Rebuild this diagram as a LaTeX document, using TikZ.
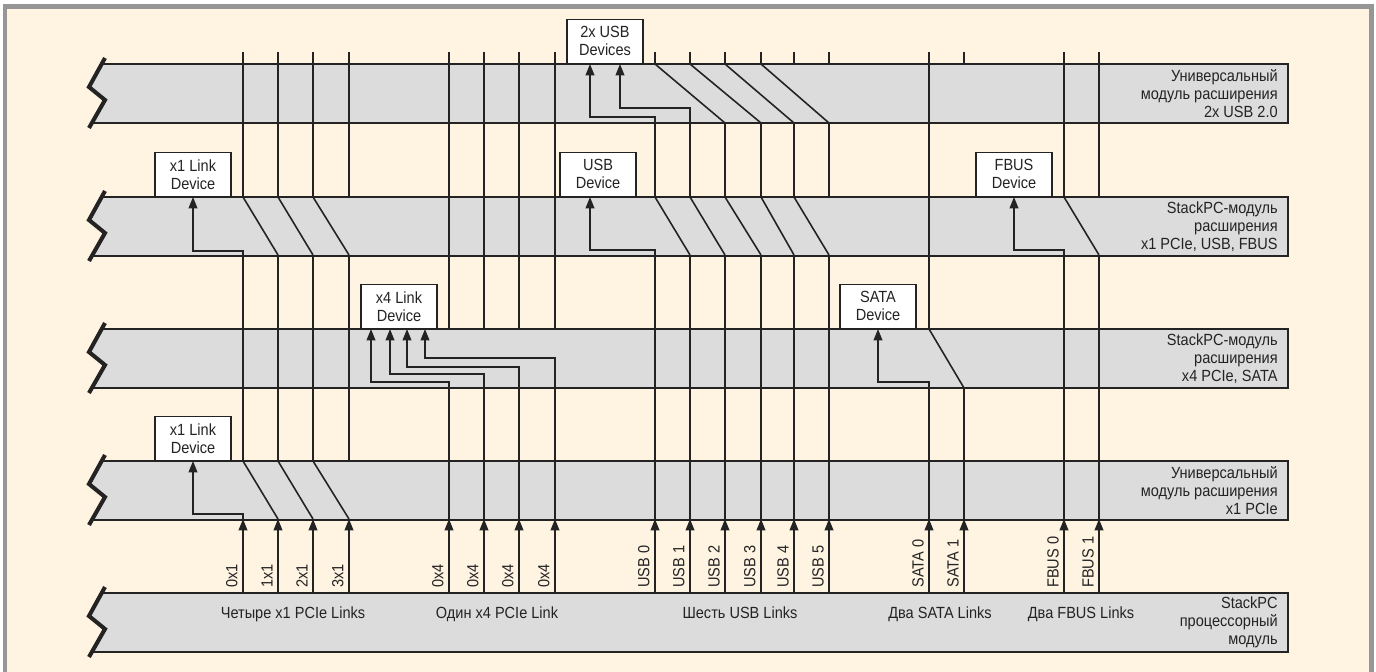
\documentclass[tikz,border=0pt]{standalone}
\usepackage{fontspec}
\setmainfont{Liberation Sans}[FakeStretch=0.9]
\usetikzlibrary{arrows.meta}
\definecolor{bgcream}{RGB}{255,243,226}
\definecolor{bandgray}{RGB}{220,220,220}
\definecolor{framegray}{RGB}{150,150,150}
\definecolor{inkgray}{RGB}{35,35,35}

\begin{document}
\begin{tikzpicture}[
  x=0.02cm, y=-0.02cm,
  every node/.style={font=\fontsize{9.2pt}{10.2pt}\selectfont, text=inkgray},
  bus/.style={draw=inkgray, line width=0.9pt},
  link/.style={bus, -{Triangle[length=6.5pt, width=5pt]}},
  device/.style={draw=inkgray, fill=white, line width=0.8pt, minimum width=1.52cm, minimum height=0.88cm, align=center, anchor=south, inner sep=1pt},
  module/.style={anchor=east, align=right, inner sep=0pt},
  port/.style={rotate=90, anchor=south west, inner sep=0pt},
  group/.style={anchor=base}
]
% Frame
\useasboundingbox (0,0) rectangle (1376,672);
\fill[bgcream] (5,6.5) rectangle (1371.5,680);
\draw[framegray, line width=2.3pt] (5,680) -- (5,6.5) -- (1371.5,6.5) -- (1371.5,680);

% Modules (gray bands with broken left edge)
\foreach \t/\nm in {64/m1, 197/m2, 329/m3, 461/m4, 593/m5} {
  \fill[bandgray] (101.7,\t) -- (1288,\t) -- (1288,\t+59) -- (91.9,\t+59) -- (105,\t+36) -- (89,\t+23) -- cycle;
  \draw[bus] (101.7,\t) -- (1288,\t) -- (1288,\t+59) -- (91.9,\t+59);
  \draw[inkgray, line width=2.3pt] (105,\t-6) -- (89,\t+23) -- (105,\t+36) -- (89,\t+64);
  \coordinate (\nm) at (1278,\t+29.5);
}
\node[module] (lm1) at (m1) {Универсальный\\модуль расширения\\2x USB 2.0};
\node[module] (lm2) at (m2) {StackPC-модуль\\расширения\\x1 PCIe, USB, FBUS};
\node[module] (lm3) at (m3) {StackPC-модуль\\расширения\\x4 PCIe, SATA};
\node[module] (lm4) at (m4) {Универсальный\\модуль расширения\\x1 PCIe};
\node[module] (lm5) at (m5) {StackPC\\процессорный\\модуль};

% Devices
\node[device] (usbsdev) at (605,64) {2x USB\\Devices};
\node[device] (x1dev2) at (193,197) {x1 Link\\Device};
\node[device] (usbdev) at (598,197) {USB\\Device};
\node[device] (fbusdev) at (1014,197) {FBUS\\Device};
\node[device] (x4dev) at (399,329) {x4 Link\\Device};
\node[device] (satadev) at (878,329) {SATA\\Device};
\node[device] (x1dev4) at (193,461) {x1 Link\\Device};

% Top ends of the connectors
\foreach \x in {243,278,313,349,449,484,519,555,655,690,725,761,794,829,929,964,1064,1099}
  \draw[bus] (\x,52) -- (\x,64);

% Links leaving the processor module
\foreach \x/\lbl in {243/0x1, 278/1x1, 313/2x1, 349/3x1, 449/0x4, 484/0x4, 519/0x4, 555/0x4,
    655/USB 0, 690/USB 1, 725/USB 2, 761/USB 3, 794/USB 4, 829/USB 5,
    929/SATA 0, 964/SATA 1, 1064/FBUS 0, 1099/FBUS 1} {
  \draw[link] (\x,593) -- (\x,519);
  \node[port] (port\x) at (\x-5,588) {\lbl};
}
\node[group] (grp1) at (293,618) {Четыре x1 PCIe Links};
\node[group] (grp2) at (497,618) {Один x4 PCIe Link};
\node[group] (grp3) at (740,618) {Шесть USB Links};
\node[group] (grp4) at (940,618) {Два SATA Links};
\node[group] (grp5) at (1081,618) {Два FBUS Links};

% x1 PCIe
\draw[link] (243,519) -- (243,514) -| (x1dev4.south);
\draw[bus] (278,519) -- (243,461);
\draw[bus] (313,519) -- (278,461);
\draw[bus] (349,519) -- (313,461);
\foreach \x in {243,278,313,349} \draw[bus] (\x,461) -- (\x,255);
\draw[link] (243,255) -- (243,251) -| (x1dev2.south);
\draw[bus] (278,255) -- (243,197);
\draw[bus] (313,255) -- (278,197);
\draw[bus] (349,255) -- (313,197);
\foreach \x in {243,278,313,349} \draw[bus] (\x,197) -- (\x,64);

% x4 PCIe
\foreach \x in {449,484,519,555} \draw[bus] (\x,519) -- (\x,388);
\draw[link] (449,388) -- (449,382) -| ([xshift=-0.56cm]x4dev.south);
\draw[link] (484,388) -- (484,374) -| ([xshift=-0.18cm]x4dev.south);
\draw[link] (519,388) -- (519,367) -| ([xshift=0.16cm]x4dev.south);
\draw[link] (555,388) -- (555,358) -| ([xshift=0.52cm]x4dev.south);
\foreach \x in {449,484,519,555} \draw[bus] (\x,329) -- (\x,64);

% USB
\foreach \x in {655,690,725,761,794,829} \draw[bus] (\x,519) -- (\x,255);
\draw[link] (655,255) -- (655,250) -| ([xshift=-0.16cm]usbdev.south);
\draw[bus] (690,255) -- (655,197);
\draw[bus] (725,255) -- (690,197);
\draw[bus] (761,255) -- (725,197);
\draw[bus] (794,255) -- (761,197);
\draw[bus] (829,255) -- (794,197);
\foreach \x in {655,690,725,761,794,829} \draw[bus] (\x,197) -- (\x,123);
\draw[link] (655,123) -- (655,117) -| ([xshift=-0.3cm]usbsdev.south);
\draw[link] (690,123) -- (690,108) -| ([xshift=0.3cm]usbsdev.south);
\draw[bus] (725,123) -- (655,64);
\draw[bus] (761,123) -- (690,64);
\draw[bus] (794,123) -- (725,64);
\draw[bus] (829,123) -- (761,64);

% SATA
\draw[bus] (929,519) -- (929,388);
\draw[bus] (964,519) -- (964,388);
\draw[link] (929,388) -- (929,382) -| (satadev.south);
\draw[bus] (964,388) -- (929,329);
\draw[bus] (929,329) -- (929,64);

% FBUS
\draw[bus] (1064,519) -- (1064,255);
\draw[bus] (1099,519) -- (1099,255);
\draw[link] (1064,255) -- (1064,250) -| (fbusdev.south);
\draw[bus] (1099,255) -- (1064,197);
\draw[bus] (1064,197) -- (1064,64);
\draw[bus] (1099,197) -- (1099,64);
\end{tikzpicture}
\end{document}
